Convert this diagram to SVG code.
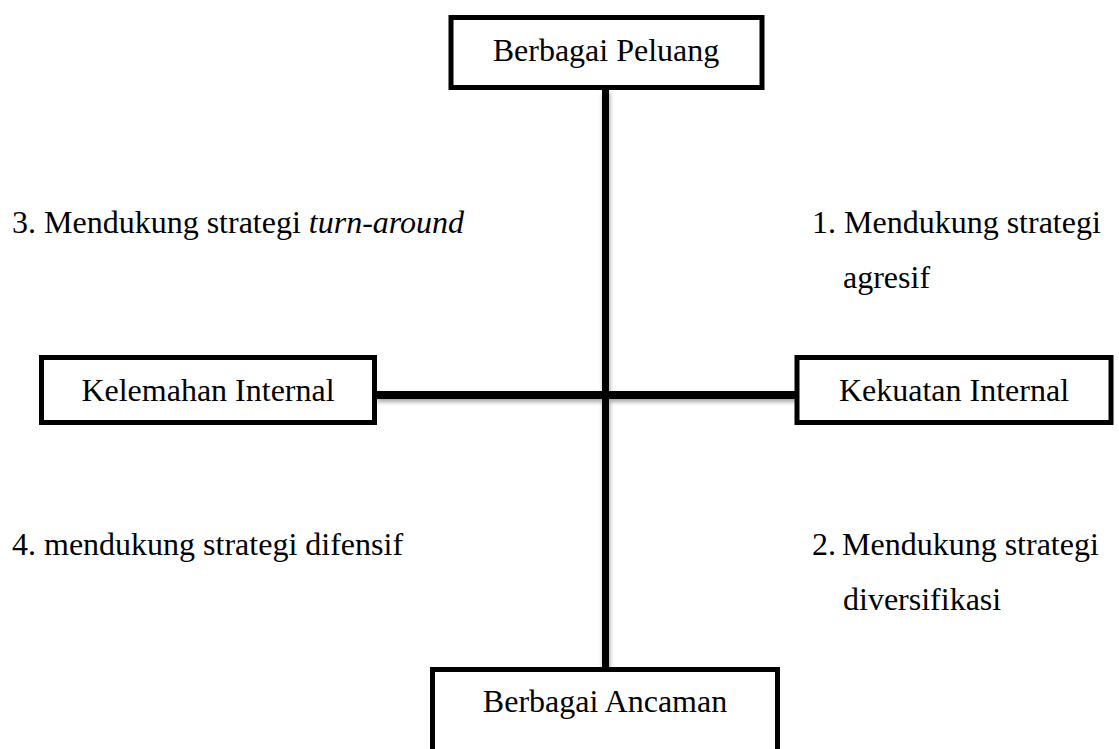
<svg xmlns="http://www.w3.org/2000/svg" width="1119" height="749" viewBox="0 0 1119 749">
<style>
.box{fill:#fff;stroke:#000;stroke-width:5}
.lbl{font-family:"Liberation Serif","Times New Roman",serif;font-size:32px;fill:#000}
.mid{text-anchor:middle}
.ln{stroke:#000;fill:none}
</style>
<defs>
<filter id="sh" x="-20%" y="-20%" width="140%" height="200%">
<feDropShadow dx="1" dy="3" stdDeviation="2" flood-color="#000" flood-opacity="0.35"/>
</filter>
</defs>
<rect width="1119" height="749" fill="#fff"/>
<g id="connectors" filter="url(#sh)">
<line class="ln" x1="605.5" y1="90" x2="605.5" y2="668" stroke-width="7"/>
<line class="ln" x1="376" y1="395" x2="796" y2="395" stroke-width="8"/>
</g>
<g id="peluang">
<rect class="box" x="451" y="17.5" width="311" height="70"/>
<text class="lbl mid" x="606" y="61">Berbagai Peluang</text>
</g>
<g id="kelemahan">
<rect class="box" x="41.5" y="357.5" width="333" height="65"/>
<text class="lbl mid" x="208" y="401">Kelemahan Internal</text>
</g>
<g id="kekuatan">
<rect class="box" x="797" y="357.5" width="314" height="65"/>
<text class="lbl mid" x="954" y="401">Kekuatan Internal</text>
</g>
<g id="ancaman">
<rect class="box" x="432.5" y="669.5" width="345" height="100"/>
<text class="lbl mid" x="605" y="712">Berbagai Ancaman</text>
</g>
<g id="quadrants">
<text class="lbl" x="12" y="233">3. Mendukung strategi <tspan font-style="italic">turn-around</tspan></text>
<text class="lbl" x="812" y="233">1. Mendukung strategi</text>
<text class="lbl" x="843" y="288">agresif</text>
<text class="lbl" x="12" y="555">4. mendukung strategi difensif</text>
<text class="lbl" x="812" y="555">2.<tspan x="842">Mendukung strategi</tspan></text>
<text class="lbl" x="843" y="610">diversifikasi</text>
</g>
</svg>
